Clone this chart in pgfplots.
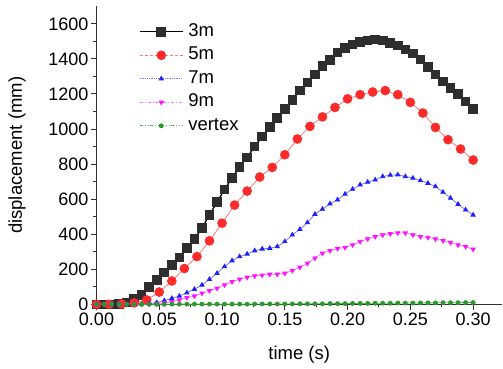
\documentclass[border=0pt]{standalone}
\usepackage{pgfplots}
\pgfplotsset{compat=1.18}
\usepackage{fontspec}
\setmainfont{Liberation Sans}

\definecolor{sqfill}{HTML}{2E2E2E}
\definecolor{circfill}{HTML}{FF2A2A}
\definecolor{redline}{HTML}{FF7A7A}
\definecolor{bluemark}{HTML}{2020FF}
\definecolor{blueline}{HTML}{7A7AFF}
\definecolor{magmark}{HTML}{FF10FF}
\definecolor{magline}{HTML}{FF70FF}
\definecolor{greenmark}{HTML}{2A9A2A}
\definecolor{greenline}{HTML}{5AB05A}
\definecolor{axisgray}{HTML}{303030}

\pgfplotstableread{
t v
0 0
0.006 0
0.012 0
0.018 2
0.024 10
0.030 29
0.036 53
0.042 97
0.048 139
0.054 181
0.060 225
0.066 268
0.072 320
0.078 371
0.084 434
0.090 510
0.096 583
0.102 655
0.108 722
0.114 783
0.120 838
0.126 900
0.132 958
0.138 1011
0.144 1063
0.150 1114
0.156 1167
0.162 1219
0.168 1266
0.174 1310
0.180 1358
0.186 1395
0.192 1436
0.198 1463
0.204 1482
0.210 1497
0.216 1506
0.222 1510
0.228 1505
0.234 1491
0.240 1476
0.246 1453
0.252 1430
0.258 1396
0.264 1354
0.270 1310
0.276 1272
0.282 1234
0.288 1200
0.294 1158
0.300 1114
}\threem

\begin{document}
\begin{tikzpicture}
\begin{axis}[
  scale only axis,
  width=405.5bp, height=298bp,
  xmin=0, xmax=0.323, ymin=0, ymax=1700,
  axis lines*=left,
  axis line style={axisgray, line width=1.1bp},
  tick style={axisgray, line width=1bp},
  tick align=outside,
  major tick length=5.5bp, minor tick length=3bp,
  xtick={0,0.05,...,0.30},
  minor x tick num=1,
  ytick={0,200,...,1600},
  minor y tick num=1,
  font=\fontsize{18.5bp}{22bp}\selectfont,
  tick label style={font=\fontsize{18bp}{21bp}\selectfont},
  yticklabel style={inner ysep=0pt, xshift=1bp},
  xticklabel style={inner ysep=0pt, yshift=-3.3bp},
  /pgf/number format/assume math mode=true,
  /pgf/number format/1000 sep={},
  xticklabel={\pgfmathprintnumber[fixed, fixed zerofill, precision=2]{\tick}},
  xlabel={time (s)}, ylabel={displacement (mm)},
  every axis x label/.style={at={(axis description cs:0.5,0)}, anchor=center, yshift=-50bp},
  every axis y label/.style={at={(axis description cs:0,0.5)}, anchor=center, xshift=-79.5bp, rotate=90},
  clip=false,
  legend cell align=left,
  legend image code/.code={%
    \draw[mark repeat=2, mark phase=2] plot coordinates {(0bp,0bp) (21.5bp,0bp) (43bp,0bp)};},
  legend style={draw=none, fill=none, at={(rel axis cs:0.105,0.942)}, anchor=north west,
    inner sep=0pt, row sep=7.5bp,
    nodes={inner sep=0pt, text height=12.6bp, text depth=3.4bp},
    /tikz/every odd column/.append style={column sep=5bp}},
]
% 3 m: markers first, the line runs over them
\addplot[black, line width=1bp, mark=square*, mark size=4.3bp,
  mark options={solid, fill=sqfill, draw=sqfill}] table {\threem};
\addlegendentry{3m}
% 5 m
\addplot[redline, line width=0.8bp, mark=*, mark size=4.4bp,
  mark options={solid, fill=circfill, draw=circfill},
  legend image post style={densely dashed}] coordinates {
(0,0) (0.01,0) (0.02,2) (0.03,8) (0.04,25) (0.05,70) (0.06,133) (0.07,204) (0.08,272)
(0.09,362) (0.10,463) (0.11,566) (0.12,646) (0.13,726) (0.14,781) (0.15,853) (0.16,943)
(0.17,1015) (0.18,1069) (0.19,1123) (0.20,1172) (0.21,1196) (0.22,1211) (0.23,1219)
(0.24,1196) (0.25,1152) (0.26,1091) (0.27,1009) (0.28,939) (0.29,886) (0.30,823)};
\addlegendentry{5m}
% 7 m
\addplot[blueline, line width=0.8bp, mark=triangle*, mark size=2.4bp,
  mark options={solid, fill=bluemark, draw=bluemark},
  legend image post style={densely dotted}] coordinates {
(0,0) (0.006,0) (0.012,0) (0.018,0) (0.024,0) (0.030,0) (0.036,1) (0.042,4)
(0.048,10) (0.054,21) (0.060,34) (0.066,47) (0.072,66) (0.078,86) (0.084,110)
(0.090,143) (0.096,177) (0.102,215) (0.108,249) (0.114,272) (0.120,287) (0.126,306)
(0.132,316) (0.138,320) (0.144,329) (0.150,358) (0.156,396) (0.162,428) (0.168,466)
(0.174,514) (0.180,543) (0.186,574) (0.192,596) (0.198,629) (0.204,657) (0.210,682)
(0.216,697) (0.222,710) (0.228,729) (0.234,737) (0.240,739) (0.246,729) (0.252,720)
(0.258,706) (0.264,691) (0.270,672) (0.276,640) (0.282,606) (0.288,571) (0.294,539)
(0.300,510)};
\addlegendentry{7m}
% 9 m
\addplot[magline, line width=0.8bp, mark=triangle*, mark size=2.4bp,
  mark options={solid, rotate=180, fill=magmark, draw=magmark},
  legend image post style={dashdotted}] coordinates {
(0,0) (0.006,0) (0.012,0) (0.018,0) (0.024,0) (0.030,0) (0.036,0) (0.042,1)
(0.048,4) (0.054,8) (0.060,15) (0.066,25) (0.072,38) (0.078,47) (0.084,63)
(0.090,78) (0.096,91) (0.102,110) (0.108,129) (0.114,143) (0.120,154) (0.126,162)
(0.132,166) (0.138,171) (0.144,171) (0.150,177) (0.156,192) (0.162,211) (0.168,234)
(0.174,263) (0.180,291) (0.186,306) (0.192,318) (0.198,324) (0.204,339) (0.210,358)
(0.216,373) (0.222,386) (0.228,396) (0.234,402) (0.240,407) (0.246,407) (0.252,396)
(0.258,386) (0.264,381) (0.270,373) (0.276,363) (0.282,352) (0.288,339) (0.294,329)
(0.300,314)};
\addlegendentry{9m}
% vertex
\addplot[greenline, line width=0.8bp, mark=*, mark size=2bp,
  mark options={solid, fill=greenmark, draw=greenmark},
  legend image post style={dashdotdotted}] coordinates {
(0,0) (0.006,0) (0.012,0) (0.018,0) (0.024,0) (0.030,0) (0.036,0) (0.042,0)
(0.048,0) (0.054,0) (0.060,1) (0.066,1) (0.072,1) (0.078,1) (0.084,1)
(0.090,1) (0.096,1) (0.102,1) (0.108,1) (0.114,1) (0.120,1) (0.126,2)
(0.132,2) (0.138,2) (0.144,2) (0.150,2) (0.156,2) (0.162,3) (0.168,3)
(0.174,3) (0.180,3) (0.186,4) (0.192,4) (0.198,4) (0.204,5) (0.210,5)
(0.216,5) (0.222,6) (0.228,6) (0.234,6) (0.240,7) (0.246,7) (0.252,7)
(0.258,8) (0.264,8) (0.270,8) (0.276,9) (0.282,9) (0.288,9) (0.294,10)
(0.300,10)};
\addlegendentry{vertex}
% black 3 m line drawn again over its own squares
\addplot[black, line width=1bp, no marks, forget plot] table {\threem};
\end{axis}
\path[use as bounding box] (-96.5bp,-64.7bp) rectangle (406.5bp,304.3bp);
\end{tikzpicture}
\end{document}
